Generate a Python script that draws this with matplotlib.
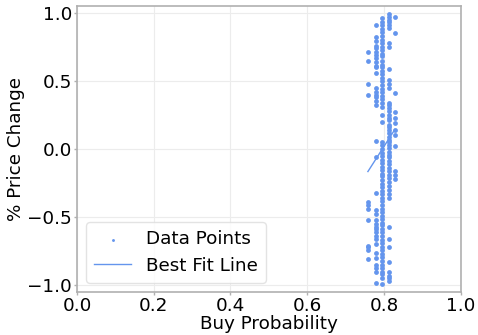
import matplotlib
matplotlib.use("Agg")
import matplotlib.pyplot as plt
import numpy as np

# Buy probability columns and the price changes observed for each
x_a = 0.758
y_a = [0.71, 0.65, 0.48, 0.40, -0.39, -0.41, -0.44, -0.52, -0.71, -0.72, -0.74, -0.81]

x_b = 0.779
y_b = [0.91, 0.82, 0.79, 0.76, 0.74, 0.71, 0.69, 0.67, 0.64, 0.61, 0.60, 0.56,
       0.45, 0.42, 0.40, 0.38, 0.35, 0.32, 0.06, -0.06, -0.32, -0.45, -0.48,
       -0.52, -0.55, -0.57, -0.59, -0.61, -0.64, -0.66, -0.70, -0.76, -0.80,
       -0.85, -0.87, -0.90, -0.98]

x_c = 0.794
y_c = [0.96, 0.93, 0.91, 0.88, 0.86, 0.83, 0.80, 0.78, 0.75, 0.73, 0.70, 0.68,
       0.65, 0.62, 0.60, 0.57, 0.55, 0.52, 0.50, 0.47, 0.44, 0.42, 0.39, 0.37,
       0.34, 0.31, 0.25, 0.20, 0.05, 0.03, 0.00, -0.03, -0.05, -0.08, -0.10,
       -0.13, -0.15, -0.18, -0.20, -0.23, -0.26, -0.28, -0.31, -0.33, -0.36,
       -0.38, -0.41, -0.44, -0.46, -0.49, -0.51, -0.54, -0.56, -0.59, -0.61,
       -0.64, -0.67, -0.69, -0.72, -0.74, -0.77, -0.79, -0.82, -0.85, -0.87,
       -0.90, -0.92, -0.95, -0.99]

x_d = 0.8125
y_d = [0.99, 0.97, 0.95, 0.93, 0.91, 0.89, 0.78, 0.75, 0.59, 0.51, 0.48, 0.45,
       0.34, 0.32, 0.30, 0.28, 0.25, 0.23, 0.21, 0.18, 0.16, 0.14, 0.12, 0.09,
       0.07, 0.05, 0.03, 0.01, -0.02, -0.04, -0.06, -0.09, -0.11, -0.14, -0.16,
       -0.19, -0.21, -0.24, -0.27, -0.30, -0.33, -0.36, -0.57, -0.66, -0.72,
       -0.83, -0.90, -0.93, -0.95, -0.97]

x_e = 0.828
y_e = [0.97, 0.85, 0.41, 0.27, 0.23, 0.19, 0.14, 0.10, 0.02, -0.16, -0.19, -0.22]

# Best fit line endpoints
fit_x = [0.758, 0.828]
fit_y = [-0.165, 0.143]

xs = np.concatenate([[x_a] * len(y_a), [x_b] * len(y_b), [x_c] * len(y_c),
                     [x_d] * len(y_d), [x_e] * len(y_e)])
ys = np.concatenate([y_a, y_b, y_c, y_d, y_e])

color = "#6495ED"
fs = 13.2

fig = plt.figure(figsize=(4.78, 3.35), dpi=100)
ax = fig.add_axes([0.161, 0.128, 0.803, 0.854])

ax.scatter(xs, ys, s=12, color=color, label="Data Points", zorder=3, linewidths=0)
ax.plot(fit_x, fit_y, color=color, linewidth=1.0, label="Best Fit Line", zorder=3)

ax.set_xlim(0, 1)
ax.set_ylim(-1.05, 1.05)
ax.set_xticks([0.0, 0.2, 0.4, 0.6, 0.8, 1.0])
ax.set_yticks([-1.0, -0.5, 0.0, 0.5, 1.0])
ax.grid(True, color="#ececec", linewidth=0.8)
ax.set_axisbelow(True)
for sp in ax.spines.values():
    sp.set_color("#b0b0b0")
    sp.set_linewidth(1.2)
ax.tick_params(labelsize=fs, length=2.5, width=1, color="#b0b0b0", pad=1)
ax.set_xlabel("Buy Probability", fontsize=fs, labelpad=0)
ax.set_ylabel("% Price Change", fontsize=fs, labelpad=2)
leg = ax.legend(loc="lower left", fontsize=fs, frameon=True, borderpad=0.45,
                labelspacing=0.45, handletextpad=0.8, markerscale=0.6)
leg.get_frame().set_edgecolor("#dddddd")

fig.savefig("out.png", dpi=100)
